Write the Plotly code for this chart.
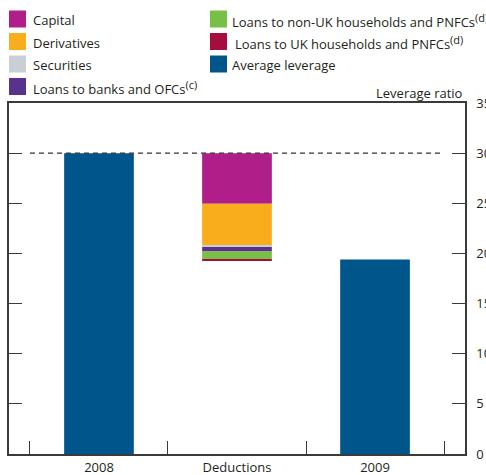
import plotly.graph_objects as go

# Categories on the x axis
categories = ["2008", "Deductions", "2009"]

# Average leverage ratio at each end of the period
lev_2008 = 30.0
lev_2009 = 19.4

# Contributions to the fall in leverage (percentage points), top to bottom
sup_style = "<sup><span style='font-size:11px'>{}</span></sup>"
deduction_names = [
    "Capital",
    "Derivatives",
    "Securities",
    "Loans to banks and OFCs" + sup_style.format("(c)"),
    "Loans to non-UK households and PNFCs" + sup_style.format("(d)"),
    "Loans to UK households and PNFCs" + sup_style.format("(d)"),
]
deduction_values = [5.05, 4.2, 0.1, 0.47, 0.77, 0.14]
deduction_colors = ["#B01E8A", "#F9AD1C", "#C8CFD5", "#59328E", "#77BF45", "#A50D3E"]

avg_name = "Average leverage"
avg_color = "#00568A"

y_ticks = [0, 5, 10, 15, 20, 25, 30, 35]

W, H = 486, 475
ML, MR, MT, MB = 9, 21, 103, 21
font_family = "Open Sans, Noto Sans, sans-serif"
text_color = "#231F20"
axis_color = "#3A3A3A"
bar_width = 0.505

fig = go.Figure()

# Start and end bars
fig.add_trace(go.Bar(
    x=[categories[0], categories[2]], y=[lev_2008, lev_2009],
    marker=dict(color=avg_color, line=dict(width=0)),
    width=bar_width, showlegend=False, name=avg_name,
))

# Waterfall of deductions hanging down from the 2008 level
top = lev_2008
for name, val, col in zip(deduction_names, deduction_values, deduction_colors):
    fig.add_trace(go.Bar(
        x=[categories[1]], y=[val], base=[top - val],
        marker=dict(color=col, line=dict(width=0)),
        width=bar_width, showlegend=False, name=name,
    ))
    top -= val

# Dashed reference line at the starting level
fig.add_shape(type="line", xref="x", yref="y",
              x0=-0.5, x1=2.5, y0=lev_2008, y1=lev_2008,
              line=dict(color="#333333", width=1.3, dash="5px,4px"), layer="above")

# Two-column legend built from swatches and labels
plot_w = W - ML - MR
plot_h = H - MT - MB


def px_to_paper(px, py):
    return (px - ML) / plot_w, (H - MB - py) / plot_h


legend_items = list(zip(deduction_names, deduction_colors))
col1 = [legend_items[0], legend_items[1], legend_items[2], legend_items[3]]
col2 = [legend_items[4], legend_items[5], (avg_name, avg_color)]
row_y = [19, 41.5, 64, 86.5]
sw = 17
for col_items, sx, text_x in [(col1, 9, [31, 31, 31, 31]), (col2, 210, [230, 233, 230])]:
    for (name, color), cy, tx in zip(col_items, row_y, text_x):
        x0, y0 = px_to_paper(sx, cy + sw / 2)
        x1, y1 = px_to_paper(sx + sw, cy - sw / 2)
        fig.add_shape(type="rect", xref="paper", yref="paper",
                      x0=x0, x1=x1, y0=y0, y1=y1,
                      fillcolor=color, line=dict(width=0))
        ax, ay = px_to_paper(tx, cy + 1)
        fig.add_annotation(xref="paper", yref="paper", x=ax, y=ay,
                           text=name, showarrow=False,
                           xanchor="left", yanchor="middle",
                           font=dict(size=13, color=text_color, family=font_family))

# Axis title above the right-hand scale
tx, ty = px_to_paper(465, 93)
fig.add_annotation(xref="paper", yref="paper", x=tx, y=ty,
                   text="Leverage ratio", showarrow=False,
                   xanchor="right", yanchor="middle",
                   font=dict(size=13, color=text_color, family=font_family))

fig.update_layout(
    width=W, height=H,
    margin=dict(l=ML, r=MR, t=MT, b=MB, pad=0, autoexpand=False),
    paper_bgcolor="white", plot_bgcolor="white",
    barmode="overlay",
    font=dict(family=font_family, size=13, color=text_color),
    showlegend=False,
    xaxis=dict(
        type="category", categoryorder="array", categoryarray=categories,
        range=[-0.652, 2.652], automargin=False,
        tickson="boundaries", ticks="inside", ticklen=13,
        tickcolor=axis_color, tickwidth=1.3,
        showline=True, linecolor=axis_color, linewidth=1.5, mirror=True,
        showgrid=False, zeroline=False,
        tickfont=dict(size=13, color=text_color),
        ticklabelstandoff=1,
    ),
    yaxis=dict(
        side="right", range=[0, 35], tickvals=y_ticks, automargin=False,
        ticks="inside", ticklen=13, tickcolor=axis_color, tickwidth=1.3,
        showline=True, linecolor=axis_color, linewidth=1.5, mirror="ticks",
        showgrid=False, zeroline=False,
        tickfont=dict(size=13, color=text_color),
        ticklabelstandoff=7,
    ),
)

fig.write_html("out.html")
